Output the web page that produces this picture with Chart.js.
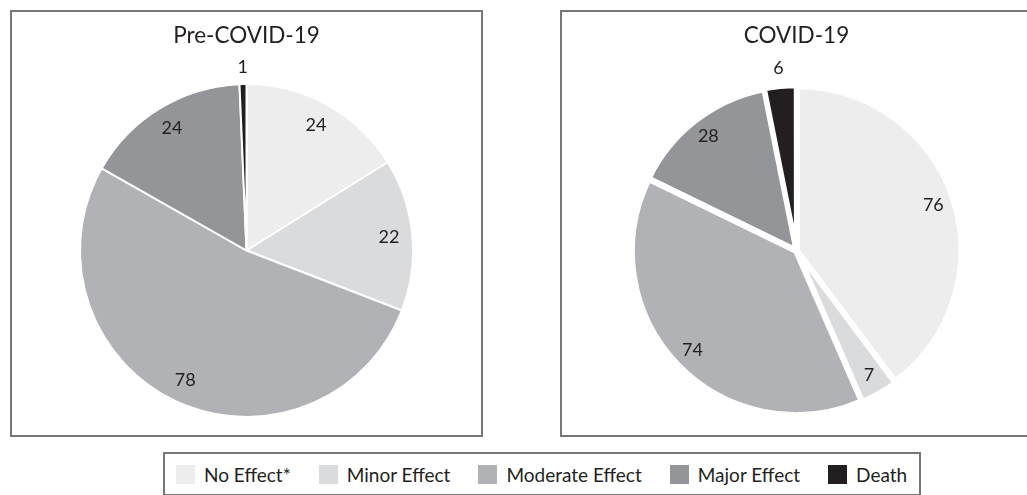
<!DOCTYPE html>
<html>
<head>
<meta charset="utf-8">
<script src="https://cdn.jsdelivr.net/npm/chart.js@4.4.1/dist/chart.umd.min.js"></script>
<style>
  html, body { margin: 0; padding: 0; background: #fff; overflow: hidden; }
  body { width: 1027px; height: 495px; position: relative; font-family: Lato, "Open Sans", sans-serif; }
  .panel { position: absolute; top: 10px; width: 473px; height: 427px; box-sizing: border-box; border: 2px solid #777; }
  .panel canvas { position: absolute; left: -2px; top: -2px; }
  #legend { position: absolute; left: 163px; top: 452px; width: 758px; height: 44px; box-sizing: border-box;
            border: 2px solid #777; display: flex; align-items: center; padding-left: 11px; color: #231f20;
            font-size: 19px; white-space: nowrap; overflow: hidden; }
  #legend .item { display: flex; align-items: center; margin-right: 28px; flex-shrink: 0; }
  #legend .sw { width: 19px; height: 19px; margin-right: 9px; flex-shrink: 0; }
</style>
</head>
<body>
<div class="panel" style="left:10px"><canvas id="pre" width="473" height="427"></canvas></div>
<div class="panel" style="left:560px"><canvas id="cov" width="473" height="427"></canvas></div>
<div id="legend"></div>
<script>
// Outcome categories and the counts for each period
const categories = ['No Effect*', 'Minor Effect', 'Moderate Effect', 'Major Effect', 'Death'];
const preCovidCounts = [24, 22, 78, 24, 1];
const covidCounts = [76, 7, 74, 28, 6];
const titles = ['Pre-COVID-19', 'COVID-19'];

// Greyscale fill for each category
const sliceColors = ['#ededed', '#dadbdd', '#b1b2b5', '#939598', '#231f20'];
const textColor = '#231f20';

// Writes each slice's count at its mid-angle; narrow slices get the label just outside
const sliceLabels = {
  id: 'sliceLabels',
  afterDatasetsDraw(chart) {
    const ctx = chart.ctx;
    const meta = chart.getDatasetMeta(0);
    const values = chart.data.datasets[0].data;
    ctx.save();
    ctx.font = '18px Lato, "Open Sans", sans-serif';
    ctx.fillStyle = textColor;
    ctx.textAlign = 'center';
    ctx.textBaseline = 'middle';
    meta.data.forEach((arc, i) => {
      const p = arc.getProps(['x', 'y', 'startAngle', 'endAngle', 'outerRadius'], true);
      const off = arc.options.offset || 0;
      const mid = (p.startAngle + p.endAngle) / 2;
      const narrow = (p.endAngle - p.startAngle) < 0.21;
      const r = narrow ? p.outerRadius * 1.1 + off : p.outerRadius * 0.86 + off;
      ctx.fillText(String(values[i]), p.x + Math.cos(mid) * r, p.y + Math.sin(mid) * r);
    });
    ctx.restore();
  }
};

function makePie(id, title, counts, borderWidth, offset) {
  return new Chart(document.getElementById(id), {
    type: 'pie',
    data: {
      labels: categories,
      datasets: [{
        data: counts,
        backgroundColor: sliceColors,
        borderColor: '#ffffff',
        borderWidth: borderWidth,
        offset: offset,
        hoverOffset: 0
      }]
    },
    options: {
      responsive: false,
      devicePixelRatio: 1,
      animation: false,
      layout: { padding: { top: 0, bottom: 19, left: 0, right: 0 } },
      plugins: {
        legend: { display: false },
        tooltip: { enabled: false },
        title: {
          display: true,
          text: title,
          color: textColor,
          font: { family: 'Lato, "Open Sans", sans-serif', size: 22.5, weight: 'normal' },
          padding: { top: 12, bottom: 34 }
        }
      }
    },
    plugins: [sliceLabels]
  });
}

makePie('pre', titles[0], preCovidCounts, 2, 0);
makePie('cov', titles[1], covidCounts, 5, 4);

// Shared legend built from the same category and colour lists
const legend = document.getElementById('legend');
categories.forEach((name, i) => {
  const item = document.createElement('div');
  item.className = 'item';
  const sw = document.createElement('span');
  sw.className = 'sw';
  sw.style.background = sliceColors[i];
  const label = document.createElement('span');
  label.textContent = name;
  item.appendChild(sw);
  item.appendChild(label);
  legend.appendChild(item);
});
</script>
</body>
</html>
